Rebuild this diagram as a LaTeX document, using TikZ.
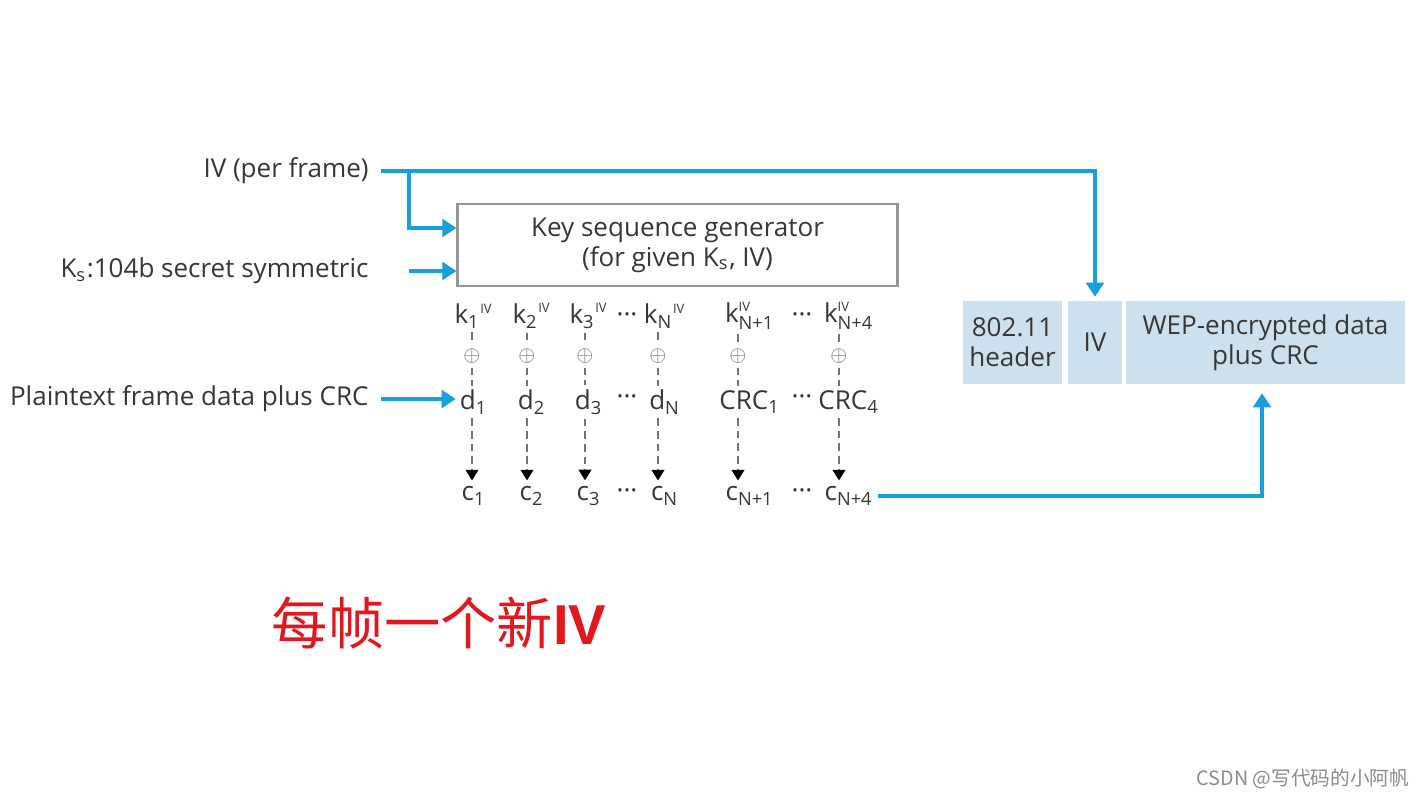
\documentclass[tikz,border=0pt]{standalone}
\usepackage{amsmath}
\usepackage{fontspec}
\setmainfont{Open Sans}
\newfontfamily\cjk{Noto Sans CJK SC}
\newfontfamily\boldsans{Liberation Sans}
\usetikzlibrary{arrows.meta}

\definecolor{wepblue}{RGB}{24,160,222}
\definecolor{fieldblue}{RGB}{204,224,237}
\definecolor{labelgray}{RGB}{55,55,55}
\definecolor{boxgray}{RGB}{150,150,150}
\definecolor{notered}{RGB}{225,25,30}

\newcommand{\kiv}[1]{$\text{k}_{\text{#1}}{}^{\scriptscriptstyle\text{IV}}$}
\newcommand{\kstack}[1]{$\text{k}^{\scriptscriptstyle\text{IV}}_{\text{#1}}$}
\newcommand{\symsub}[2]{$\text{#1}_{\text{#2}}$}

\begin{document}
\begin{tikzpicture}[x=0.01cm, y=-0.01cm,
    every node/.style={font=\fontsize{7.4}{8.6}\selectfont, text=labelgray},
    feed/.style={draw=wepblue, line width=1.4pt, -{Triangle[length=4pt,width=5pt]}},
    stream/.style={draw=black!55, line width=0.5pt, dash pattern=on 2.2pt off 1.4pt},
    cell/.style={inner sep=1pt},
    field/.style={fill=fieldblue, minimum height=0.82cm, inner sep=0pt, align=center}]
    \useasboundingbox[fill=white] (0,0) rectangle (1424,799);

    % Inputs
    \node[anchor=east] (ivtxt) at (381,171) {IV (per frame)};
    \node[anchor=east] (kstxt) at (381,271) {\symsub{K}{s}:104b secret symmetric};
    \node[anchor=east] (pttxt) at (381,399) {Plaintext frame data plus CRC};
    \coordinate (branch) at (409,172);

    % Key sequence generator
    \node[draw=boxgray, line width=0.8pt, minimum width=4.39cm, minimum height=0.82cm, align=center] (keygen) at (677.5,245) {Key sequence generator\\(for given \symsub{K}{s}, IV)};

    % Frame fields
    \node[field, minimum width=0.99cm] (hdr) at (1012.5,342.5) {802.11\\header};
    \node[field, minimum width=0.53cm] (ivfield) at (1095,342.5) {IV};
    \node[field, minimum width=2.78cm] (wep) at (1265.5,342.5) {WEP-encrypted data\\plus CRC};

    % Key stream, data and cipher columns
    \foreach \i/\x/\dx/\klab/\dm/\ds/\cs in {1/472/2/\kiv{1}/d/1/1, 2/527/5/\kiv{2}/d/2/2, 3/585/4/\kiv{3}/d/3/3,
        4/658/7/\kiv{N}/d/N/N, 5/738/12/\kstack{N+1}/CRC/1/N+1, 6/839/10/\kstack{N+4}/CRC/4/N+4} {
        \node[cell] (k\i) at (\x+\dx,316) {\klab};
        \node[cell, text=black!45, font=\fontsize{5.2}{6}\selectfont] (op\i) at (\x,356) {$\oplus$};
        \node[cell] (d\i) at (\x+\dx,402) {\symsub{\dm}{\ds}};
        \node[cell] (c\i) at (\x+\dx,496) {\symsub{c}{\cs}};
        \draw[stream] (k\i.south -| op\i) -- (op\i.north);
        \draw[stream] (op\i.south) -- (d\i.north -| op\i);
        \draw[stream, -{Triangle[length=3pt,width=3.6pt,color=black]}] (d\i.south -| op\i) -- ([yshift=0.02cm]c\i.north -| op\i);
    }
    \foreach \y/\r in {318/k, 400/d, 494/c} {
        \node[cell] (dotsa\r) at (627,\y) {···};
        \node[cell] (dotsb\r) at (802,\y) {···};
    }

    % Blue feeds
    \draw[feed] (ivtxt.east) -| ([yshift=0.04cm]ivfield.north);
    \draw[feed] (branch) |- ([yshift=0.17cm]keygen.west);
    \draw[feed] (kstxt.east -| branch) -- (kstxt.east -| keygen.west);
    \draw[feed] (pttxt.east) -- (pttxt.east -| d1.west);
    \draw[feed] (c6.east) -| ([xshift=-0.035cm, yshift=-0.09cm]wep.south);

    % Notes
    \node[text=notered, font=\fontsize{16}{18}\selectfont] (note) at (439,623) {\cjk 每帧一个新\boldsans\bfseries IV};
    \node[text=black!45, font=\fontsize{5.6}{7}\selectfont] (mark) at (1303,779) {\cjk CSDN @写代码的小阿帆};
\end{tikzpicture}
\end{document}
